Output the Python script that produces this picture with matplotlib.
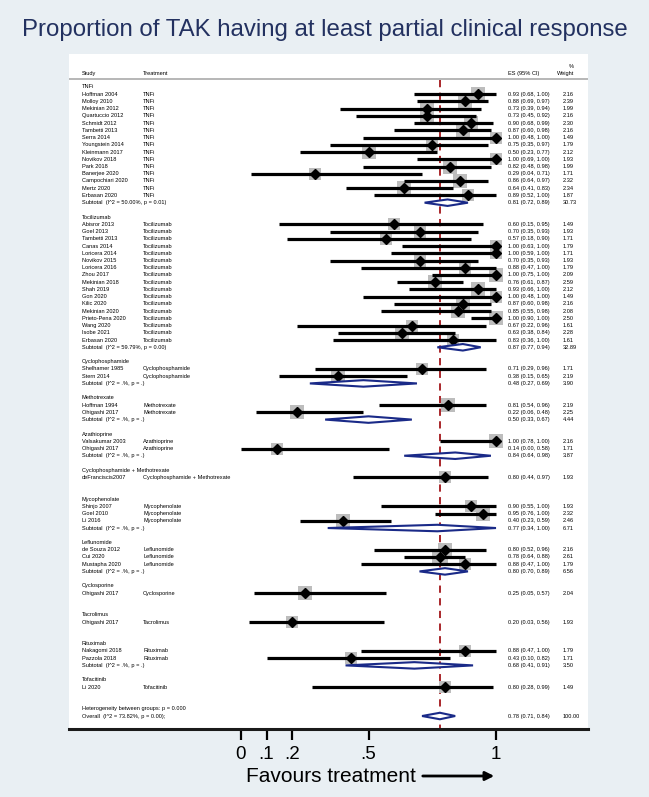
import numpy as np
import matplotlib
matplotlib.use("Agg")
import matplotlib.pyplot as plt

plt.rcParams['font.family'] = ['Liberation Sans', 'DejaVu Sans']

# study level data
study = ['Hoffman 2004', 'Molloy 2010', 'Mekinian 2012', 'Quartuccio 2012', 'Schmidt 2012',
         'Tambetti 2013', 'Serra 2014', 'Youngstein 2014', 'Kleinmann 2017', 'Novikov 2018',
         'Park 2018', 'Banerjee 2020', 'Campochiari 2020', 'Mertz 2020', 'Erbasan 2020',
         'Abisror 2013', 'Goel 2013', 'Tambetti 2013', 'Canas 2014', 'Loricera 2014',
         'Novikov 2015', 'Loricera 2016', 'Zhou 2017', 'Mekinian 2018', 'Shah 2019',
         'Gon 2020', 'Kilic 2020', 'Mekinian 2020', 'Prieto-Pena 2020', 'Wang 2020',
         'Isobe 2021', 'Erbasan 2020',
         'Shelhamer 1985', 'Stern 2014',
         'Hoffman 1994', 'Ohigashi 2017',
         'Valsakumar 2003', 'Ohigashi 2017',
         'deFranciscis2007',
         'Shinjo 2007', 'Goel 2010', 'Li 2016',
         'de Souza 2012', 'Cui 2020', 'Mustapha 2020',
         'Ohigashi 2017',
         'Ohigashi 2017',
         'Nakagomi 2018', 'Pazzola 2018',
         'Li 2020']
treatment = ['TNFi'] * 15 + ['Tocilizumab'] * 17 + ['Cyclophosphamide'] * 2 + \
            ['Methotrexate'] * 2 + ['Azathioprine'] * 2 + \
            ['Cyclophosphamide + Methotrexate'] + ['Mycophenolate'] * 3 + \
            ['Leflunomide'] * 3 + ['Cyclosporine'] + ['Tacrolimus'] + \
            ['Rituximab'] * 2 + ['Tofacitinib']
es = [0.93, 0.88, 0.73, 0.73, 0.90, 0.87, 1.00, 0.75, 0.50, 1.00, 0.82, 0.29, 0.86, 0.64, 0.89,
      0.60, 0.70, 0.57, 1.00, 1.00, 0.70, 0.88, 1.00, 0.76, 0.93, 1.00, 0.87, 0.85, 1.00, 0.67,
      0.63, 0.83,
      0.71, 0.38, 0.81, 0.22, 1.00, 0.14, 0.80, 0.90, 0.95, 0.40, 0.80, 0.78, 0.88,
      0.25, 0.20, 0.88, 0.43, 0.80]
lo = [0.68, 0.69, 0.39, 0.45, 0.68, 0.60, 0.48, 0.35, 0.23, 0.69, 0.48, 0.04, 0.64, 0.41, 0.52,
      0.15, 0.35, 0.18, 0.63, 0.59, 0.35, 0.47, 0.75, 0.61, 0.66, 0.48, 0.60, 0.55, 0.90, 0.22,
      0.38, 0.36,
      0.29, 0.15, 0.54, 0.06, 0.78, 0.00, 0.44, 0.55, 0.76, 0.23, 0.52, 0.64, 0.47,
      0.05, 0.03, 0.47, 0.10, 0.28]
hi = [1.00, 0.97, 0.94, 0.92, 0.99, 0.98, 1.00, 0.97, 0.77, 1.00, 0.98, 0.71, 0.97, 0.83, 1.00,
      0.95, 0.93, 0.90, 1.00, 1.00, 0.93, 1.00, 1.00, 0.87, 1.00, 1.00, 0.98, 0.98, 1.00, 0.96,
      0.84, 1.00,
      0.96, 0.65, 0.96, 0.48, 1.00, 0.58, 0.97, 1.00, 1.00, 0.59, 0.96, 0.88, 1.00,
      0.57, 0.56, 1.00, 0.82, 0.99]
weight = [2.16, 2.39, 1.99, 2.16, 2.30, 2.16, 1.49, 1.79, 2.12, 1.93, 1.99, 1.71, 2.32, 2.34, 1.87,
          1.49, 1.93, 1.71, 1.79, 1.71, 1.93, 1.79, 2.09, 2.59, 2.12, 1.49, 2.16, 2.08, 2.50, 1.61,
          2.28, 1.61,
          1.71, 2.19, 2.19, 2.25, 2.16, 1.71, 1.93, 1.93, 2.32, 2.46, 2.16, 2.61, 1.79,
          2.04, 1.93, 1.79, 1.71, 1.49]

# subgroup summaries
groups = ['TNFi', 'Tocilizumab', 'Cyclophosphamide', 'Methotrexate', 'Azathioprine',
          'Cyclophosphamide + Methotrexate', 'Mycophenolate', 'Leflunomide', 'Cyclosporine',
          'Tacrolimus', 'Rituximab', 'Tofacitinib']
sub_het = ['(I^2 = 50.00%, p = 0.01)', '(I^2 = 59.79%, p = 0.00)', '(I^2 = .%, p = .)',
           '(I^2 = .%, p = .)', '(I^2 = .%, p = .)', None, '(I^2 = .%, p = .)',
           '(I^2 = .%, p = .)', None, None, '(I^2 = .%, p = .)', None]
sub_es = [0.81, 0.87, 0.48, 0.50, 0.84, None, 0.77, 0.80, None, None, 0.68, None]
sub_lo = [0.72, 0.77, 0.27, 0.33, 0.64, None, 0.34, 0.70, None, None, 0.41, None]
sub_hi = [0.89, 0.94, 0.69, 0.67, 0.98, None, 1.00, 0.89, None, None, 0.91, None]
sub_w = [30.73, 32.89, 3.90, 4.44, 3.87, None, 6.71, 6.56, None, None, 3.50, None]

overall_es, overall_lo, overall_hi = 0.78, 0.71, 0.84
overall_het = '(I^2 = 73.82%, p = 0.00);'
between_p = '0.000'

ticks = [0, 0.1, 0.2, 0.5, 1]
tick_labels = ['0', '.1', '.2', '.5', '1']

W, H = 649, 797
fig = plt.figure(figsize=(W / 100, H / 100), dpi=100)
fig.patch.set_facecolor('#e9eff3')

# pixel -> data mapping: x=0 at 241px, x=1 at 496px
px0, px1 = 241, 496
scale = px1 - px0
box_l, box_r, box_t, box_b = 69, 588, 54, 729
row0, pitch = 87, 7.23

ax = fig.add_axes([box_l / W, 1 - box_b / H, (box_r - box_l) / W, (box_b - box_t) / H])
ax.set_facecolor('white')
ax.set_xlim((box_l - px0) / scale, (box_r - px0) / scale)
ax.set_ylim((box_b - row0) / pitch, (box_t - row0) / pitch)

def xd(px):
    return (px - px0) / scale

navy = '#1a2a88'
fs = 4.1
x_study, x_treat, x_es, x_w = xd(82), xd(143), xd(508), xd(563)

# header
ax.text(x_study, -1.9, 'Study', fontsize=fs, va='center')
ax.text(x_treat, -1.9, 'Treatment', fontsize=fs, va='center')
ax.text(x_es, -1.9, 'ES (95% CI)', fontsize=fs, va='center')
ax.text(xd(574), -2.9, '%', fontsize=fs, va='center', ha='right')
ax.text(xd(574), -1.9, 'Weight', fontsize=fs, va='center', ha='right')
ax.axhline(-1.1, color='#aaaaaa', lw=1.2)

row = 0
i = 0
for g, grp in enumerate(groups):
    ax.text(x_study, row, grp, fontsize=fs, va='center')
    row += 1
    while i < len(study) and treatment[i] == grp:
        ax.scatter(es[i], row, s=45 * weight[i], marker='s', color='#bdbdbd', zorder=2, lw=0)
        ax.plot([lo[i], hi[i]], [row, row], color='black', lw=2.3, zorder=3, solid_capstyle='butt')
        ax.plot(es[i], row, marker='D', color='black', ms=5, zorder=4)
        ax.text(x_study, row, study[i], fontsize=fs, va='center')
        ax.text(x_treat, row, treatment[i], fontsize=fs, va='center')
        ax.text(x_es, row, f'{es[i]:.2f} ({lo[i]:.2f}, {hi[i]:.2f})', fontsize=fs, va='center')
        ax.text(x_w, row, f'{weight[i]:.2f}', fontsize=fs, va='center')
        row += 1
        i += 1
    if sub_es[g] is not None:
        dx = [sub_lo[g], sub_es[g], sub_hi[g], sub_es[g], sub_lo[g]]
        dy = [row, row - 0.45, row, row + 0.45, row]
        ax.fill(dx, dy, facecolor='white', edgecolor=navy, lw=1.5, zorder=5)
        ax.text(x_study, row, 'Subtotal  ' + sub_het[g], fontsize=fs, va='center')
        ax.text(x_es, row, f'{sub_es[g]:.2f} ({sub_lo[g]:.2f}, {sub_hi[g]:.2f})',
                fontsize=fs, va='center')
        ax.text(x_w, row, f'{sub_w[g]:.2f}', fontsize=fs, va='center')
    row += 2

ax.text(x_study, row, 'Heterogeneity between groups: p = ' + between_p, fontsize=fs, va='center')
row += 1
dx = [overall_lo, overall_es, overall_hi, overall_es, overall_lo]
dy = [row, row - 0.45, row, row + 0.45, row]
ax.fill(dx, dy, facecolor='white', edgecolor=navy, lw=1.5, zorder=5)
ax.text(x_study, row, 'Overall  ' + overall_het, fontsize=fs, va='center')
ax.text(x_es, row, f'{overall_es:.2f} ({overall_lo:.2f}, {overall_hi:.2f})', fontsize=fs, va='center')
ax.text(x_w, row, '100.00', fontsize=fs, va='center')

# overall effect line
ax.plot([overall_es, overall_es], [-0.9, (box_b - row0) / pitch], color='#a3161a', lw=1.3,
        dashes=(4, 3), zorder=1)

for s in ['top', 'left', 'right']:
    ax.spines[s].set_visible(False)
ax.spines['bottom'].set_linewidth(2.2)
ax.spines['bottom'].set_color('#1a1a1a')
ax.set_yticks([])
ax.set_xticks(ticks)
ax.set_xticklabels(tick_labels)
ax.tick_params(axis='x', length=8, width=1.6, labelsize=13.5, pad=4, direction='out')

fig.text(0.5, 1 - 30 / H, 'Proportion of TAK having at least partial clinical response',
         ha='center', va='center', fontsize=17.3, color='#233160')

ty = 1 - 776 / H
fig.text(416 / W, ty, 'Favours treatment', ha='right', va='center', fontsize=15)
ax.annotate('', xy=(xd(497), ty), xytext=(xd(420), ty),
            xycoords=('data', 'figure fraction'), textcoords=('data', 'figure fraction'),
            arrowprops=dict(arrowstyle='-|>', lw=2, color='black', mutation_scale=13),
            annotation_clip=False)

plt.savefig('out.png', dpi=100, facecolor=fig.get_facecolor())
